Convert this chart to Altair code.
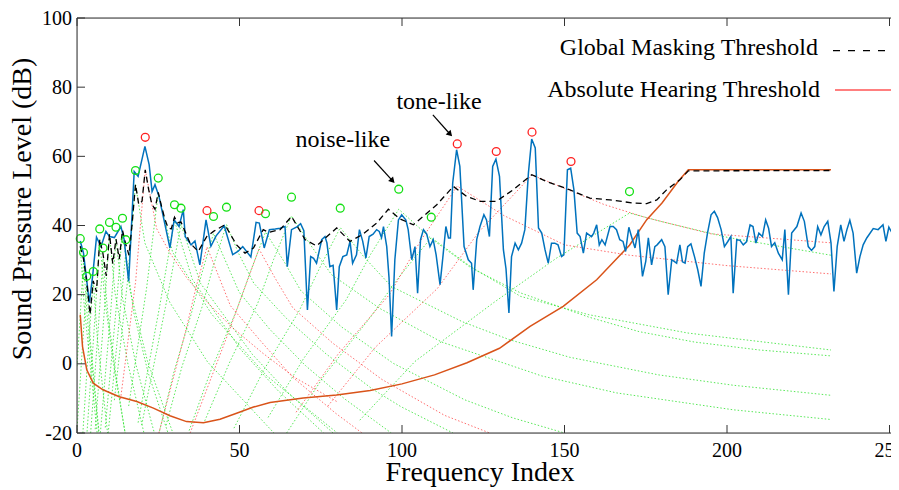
import altair as alt
import pandas as pd

# ---------------- data ----------------
spectrum = [
    (1, 35.5), (2, 32.0), (3.8, 17.7), (4.8, 25.3), (6, 36.6), (7.4, 33.9), (8.9, 38.3), (10, 36.8),
    (11.5, 36.5), (13.5, 39.7), (14.5, 36.0), (15.9, 23.8), (17.6, 55.6), (18.8, 54.2), (20.9, 62.9),
    (22.2, 57.6), (23.1, 49.8), (24, 51.8), (25.2, 48.5), (27.4, 38.8), (28.6, 33.5), (29.9, 41.6),
    (31.4, 39.7), (32.7, 44.6), (33.3, 36.8), (35.1, 34.4), (36.3, 35.5), (37.8, 28.6), (39.7, 41.6),
    (41.2, 34.0), (42.8, 37.0), (45.3, 39.9), (47.9, 31.6), (49.5, 32.5), (51, 33.9), (53.5, 30.9),
    (55.1, 40.9), (56.1, 40.7), (57.6, 33.5), (59.2, 38.8), (61, 39.0), (62.5, 39.2), (64, 39.7),
    (64.7, 28.1), (66, 38.8), (67.5, 39.5), (68.8, 40.5), (69.8, 38.5), (70.9, 15.6), (71.9, 31.0),
    (72.8, 30.5), (73.7, 29.1), (75.3, 35.9), (76.3, 36.8), (76.9, 35.0), (77.8, 28.1), (78.8, 28.5),
    (79.9, 15.6), (80.7, 28.1), (81.8, 31.0), (83, 31.5), (84, 35.4), (84.8, 29.1), (86, 31.5),
    (86.9, 38.8), (87.9, 35.5), (88.9, 30.6), (89.9, 36.8), (91.1, 37.5), (92.2, 38.8), (93, 38.3),
    (93.7, 36.5), (94.3, 39.7), (95.3, 33.9), (96, 25.0), (96.8, 7.9), (97.8, 30.1), (98.9, 41.6),
    (99.9, 43.1), (101.2, 41.6), (101.9, 38.8), (103, 30.1), (104, 33.9), (104.8, 20.4), (105.7, 35.9),
    (106.6, 38.8), (107.6, 37.5), (108.6, 33.9), (109.6, 35.9), (110.5, 31.5), (111.7, 22.9),
    (112.7, 32.0), (113.5, 39.7), (114.3, 36.4), (114.9, 36.4), (115.6, 52.3), (116.8, 61.9),
    (117.8, 57.1), (119.1, 33.9), (120.4, 30.1), (121.4, 29.1), (121.9, 21.4), (123, 36.0),
    (124, 39.7), (125.2, 43.1), (126, 41.6), (126.9, 36.8), (127.9, 57.1), (128.9, 59.2), (130, 54.2),
    (131.2, 33.0), (132, 27.5), (132.9, 14.7), (133.7, 31.0), (134.8, 34.9), (135.8, 33.0),
    (136.8, 34.9), (137.8, 38.8), (138.9, 55.2), (139.9, 65.0), (141, 62.4), (142, 39.3), (143, 37.8),
    (144, 33.0), (145, 29.1), (146, 34.9), (147, 34.9), (148, 34.4), (149.1, 31.0), (149.8, 31.5),
    (150.9, 56.1), (151.9, 56.6), (152.9, 50.3), (153.9, 37.8), (154.8, 36.8), (155.8, 32.0),
    (156.8, 37.8), (158.3, 36.8), (159, 37.8), (159.9, 40.2), (160.7, 34.4), (161.5, 35.9),
    (162.5, 34.4), (164, 39.7), (165, 39.7), (166, 38.8), (167, 35.9), (168, 35.4), (168.8, 32.5),
    (169.8, 39.5), (170.9, 35.9), (171.7, 33.5), (172.7, 38.8), (174, 25.3), (175, 29.6), (175.8, 36.4),
    (176.8, 28.6), (177.8, 33.9), (178.5, 34.4), (179.9, 35.9), (180.9, 33.9), (181.9, 20.0),
    (183, 30.1), (184.5, 29.1), (185.5, 34.4), (186.3, 29.5), (187.1, 29.1), (187.9, 33.9),
    (188.9, 34.7), (190, 31.0), (191, 27.2), (192, 22.4), (193, 32.0), (194, 37.8), (195.1, 43.1),
    (196.1, 44.1), (197.1, 42.3), (198.2, 38.8), (199.2, 33.9), (200.2, 35.3), (201.2, 36.8),
    (201.9, 20.4), (203, 35.9), (204, 35.7), (205, 34.4), (206, 35.3), (207.1, 40.2), (208, 39.7),
    (208.9, 34.9), (209.8, 37.8), (210.9, 36.8), (211.9, 41.6), (212.8, 39.2), (213.7, 33.9),
    (214.7, 35.0), (215.8, 32.0), (217, 30.1), (217.8, 38.8), (218.9, 20.0), (219.9, 37.8),
    (221.5, 39.7), (222.8, 43.6), (223.8, 41.2), (225, 33.9), (226, 32.8), (227, 33.9), (227.9, 39.7),
    (228.9, 37.3), (229.9, 39.7), (231, 41.2), (232, 35.0), (232.9, 20.9), (233.9, 33.9), (235, 40.2),
    (236, 35.4), (236.9, 38.8), (237.8, 41.5), (238.8, 37.8), (239.9, 26.2), (240.9, 31.0),
    (241.9, 34.4), (243, 36.4), (245, 39.1), (246.5, 38.8), (248, 40.2), (248.9, 35.4), (249.8, 39.5),
    (251, 37.5), (252.7, 37.3), (254, 38.0), (256, 37.0),
]

global_threshold = [
    (1, 34.0), (2, 30.3), (3, 23.7), (4, 14.3), (5, 24.0), (6, 20.8), (7, 36.0), (8, 31.8), (9, 25.4),
    (10, 37.5), (11, 29.0), (12, 36.1), (13, 30.3), (14, 38.6), (15, 34.6), (16, 31.4), (17, 40.9),
    (18, 51.9), (19, 46.1), (20, 47.0), (21, 56.1), (22, 50.6), (23, 46.2), (24, 44.7), (25, 49.6),
    (26, 45.6), (27, 42.0), (28, 39.3), (29, 39.0), (30, 42.4), (31, 40.8), (32, 41.0), (34.8, 34.9),
    (37.3, 32.5), (39.9, 36.8), (42, 38.3), (45.5, 40.2), (49.1, 34.4), (51.7, 32.0), (54.3, 33.5),
    (57.3, 38.8), (59, 38.0), (62.5, 38.8), (66, 42.6), (70.2, 35.9), (73.7, 34.1), (79.9, 39.3),
    (84, 35.4), (88, 37.5), (92.2, 40.7), (95.8, 44.7), (99.4, 41.9), (103.5, 40.2), (110.7, 46.0),
    (115.8, 51.3), (119.9, 48.4), (124, 47.0), (129, 47.0), (134.2, 50.3), (139.9, 54.7), (144.5, 52.7),
    (151.7, 50.3), (157.8, 47.9), (164, 47.4), (171.2, 46.5), (175.3, 46.3), (178.4, 47.4),
    (181.4, 50.3), (185.5, 53.2), (188.1, 55.8), (232, 55.9),
]

absolute_threshold = [
    (1, 14.2), (1.7, 5.0), (3, -1.7), (5, -5.6), (8, -7.5), (13, -9.5), (18.4, -10.9), (23.5, -12.8),
    (28.6, -15.0), (33.7, -16.7), (38.9, -17.0), (44, -16.0), (49.1, -14.3), (54.3, -12.5),
    (59.4, -11.2), (69.6, -9.9), (79.9, -9.0), (90.2, -7.7), (100, -5.8), (110, -3.2), (120, 0.3),
    (130, 4.5), (139.4, 10.8), (149.6, 16.6), (159.9, 24.3), (170, 34.3), (175.3, 41.7), (180, 46.5),
    (185, 52.8), (188.1, 56.1), (232, 56.1),
]

noise_idx = [1, 2, 3, 5, 7, 8, 10, 12, 14, 15, 18, 25, 30, 32, 42, 46, 58, 66, 81, 99, 109, 170]
noise_db = [36.2, 32.2, 25.3, 26.7, 39.0, 33.5, 40.9, 39.5, 42.1, 35.9, 55.9, 53.7, 46.0, 45.0,
            42.6, 45.3, 43.4, 48.2, 45.0, 50.5, 42.4, 49.8]
tone_idx = [21, 40, 56, 117, 129, 140, 152]
tone_db = [65.5, 44.3, 44.3, 63.6, 61.4, 67.0, 58.5]

# individual masking thresholds (dotted), vertices
noise_spread = [
    [(1, 34.0), (2.2, 17.0), (6.2, -20)],
    [(0, -0.7), (0.8, 11.0), (2, 29.9), (3.2, 12.9), (6.7, -20)],
    [(0, -19.2), (1.8, 6.7), (3, 22.8), (4.2, 5.8), (6.8, -20)],
    [(1.8, -20), (3.7, 7.3), (5, 24.0), (6.3, 7.0), (9.4, -20)],
    [(3.1, -19.6), (5.6, 14.4), (7, 36.0), (8.5, 19.0), (11.3, -0.5), (14.8, -20)],
    [(4.2, -20), (6.6, 11.0), (8, 30.4), (9.6, 13.4), (12.0, -3.4), (14.8, -20)],
    [(5.6, -18.9), (8.4, 15.2), (10, 37.5), (11.7, 20.5), (15.6, 0.3), (20.6, -20)],
    [(7.2, -19.9), (10.3, 14.2), (12, 36.0), (14, 19.0), (18.2, -0.5), (23.8, -20)],
    [(8.7, -18.4), (12, 15.6), (14, 38.4), (16.3, 21.4), (21.7, 0.7), (29.5, -20)],
    [(9.6, -20), (12.9, 11.7), (15, 32.1), (17.4, 15.1), (21.8, -2.3), (28, -20)],
    [(11.5, -10.5), (15.5, 23.5), (18, 51.9), (20.9, 34.9), (28.6, 17.7), (40.2, 0.5), (60.6, -20)],
    [(15.9, -12.2), (21.4, 21.8), (25, 49.3), (29.4, 32.3), (41.4, 14.4), (58.4, -3.5), (80.1, -20)],
    [(18.8, -17.0), (25.5, 17.0), (30, 41.4), (35.5, 24.4), (50.3, 4.2), (62, -7.9), (75.9, -20)],
    [(19.9, -17.7), (27.2, 16.3), (32, 40.3), (38, 23.3), (53.9, 2.8), (65.1, -8.5), (78.8, -20)],
    [(25.4, -19.4), (29.8, -2.4), (35.2, 14.6), (38.4, 26.1), (42, 37.7), (49.9, 20.7), (59.3, 10.0),
     (70.4, -0.6), (82.3, -10.1), (96.7, -20)],
    [(27.4, -17.8), (32.3, -0.8), (38.4, 16.2), (41.9, 28.2), (46, 40.3), (49.8, 31.8), (54.4, 23.3),
     (64.5, 13.1), (76.6, 2.9), (90.9, -7.3), (99.7, -12.4), (115.7, -20)],
    [(34.5, -19.3), (41.1, -2.2), (48.8, 14.8), (53.3, 26.5), (58, 38.1), (63.7, 29.6), (68.9, 21.1),
     (81.5, 10.6), (97.4, 0.1), (119.3, -10.4), (134, -15.6), (150, -20)],
    [(39.3, -16.5), (47, 0.5), (55.6, 17.5), (60.5, 30.2), (66, 42.8), (71.9, 34.3), (78.3, 25.8),
     (93.2, 16.0), (112.2, 6.3), (143, -3.5), (166, -8.4), (202, -13.3), (232, -16.1)],
    [(48.3, -18.6), (57.6, -1.6), (68.4, 15.4), (74.5, 27.4), (81, 39.4), (88.3, 30.9), (96.7, 22.4),
     (118.5, 12.2), (133, 7.0), (151.6, 1.9), (179, -3.2), (202, -6.2), (232, -9.1)],
    [(58.8, -15.5), (69.7, 1.5), (82.8, 18.5), (90.3, 31.6), (99, 44.7), (109, 36.2), (121.3, 27.7),
     (136.5, 20.5), (157.5, 13.5), (173, 9.3), (190, 6.3), (210, 4.0), (232, 2.3)],
    [(64.5, -20), (76, -3.5), (90.3, 13.5), (99, 25.0), (109, 36.5), (121.3, 28.0), (136.5, 19.5),
     (157.5, 14.2), (188, 8.9), (232, 4.0)],
    [(87, -16.3), (104, 0.7), (128.2, 17.7), (147.6, 30.6), (170, 43.6), (180, 41.1), (200, 36.6),
     (232, 31.4)],
]
tone_spread = [
    [(13.4, -10.2), (18.05, 23.9), (19.5, 40.0), (21, 56.1), (24.5, 39.1), (28.7, 31.9), (33.9, 24.7),
     (40.4, 17.5), (47.9, 10.4), (57, 3.2), (67.1, -4.0), (80.3, -11.1)],
    [(25.2, -20), (33.6, 10.1), (36.6, 22.0), (40, 33.8), (43.6, 25.3), (47.2, 16.8), (56.6, 6.5),
     (66.4, -3.9), (79.6, -14.3), (87.7, -20)],
    [(34.8, -20), (46.8, 9.5), (51.4, 21.4), (56, 33.2), (61, 24.7), (66.4, 16.2), (78.8, 5.9),
     (93.8, -4.5), (113.1, -14.9), (127, -20)],
    [(67.4, -14.0), (80.5, 3.0), (96.1, 20.0), (105.8, 35.7), (117, 51.4), (131.3, 42.9), (150, 34.4),
     (170, 31.4), (200, 28.4), (232, 26.0)],
    [(77.2, -12.2), (91.8, 4.8), (110.9, 21.8), (123.7, 38.2), (140, 54.6), (162.1, 46.1), (175, 42.3),
     (195, 37.6), (232, 35.0)],
]

x_ticks = [0, 50, 100, 150, 200, 250]
y_ticks = [-20, 0, 20, 40, 60, 80, 100]

notes = ["noise-like", "tone-like"]
note_x = [81.8, 111.4]
note_y = [62.7, 73.7]
arrow_x1 = [91.4, 109.5]
arrow_y1 = [58.8, 72.0]
arrow_x2 = [96.9, 114.6]
arrow_y2 = [53.1, 66.6]

# ---------------- chart ----------------
W, H = 814, 415
FONT = "Liberation Serif"
AX = "#333333"
x_scale = alt.Scale(domain=[0, W / 3.25], nice=False, zero=False)
y_scale = alt.Scale(domain=[-20, 100], nice=False, zero=False)


def pairs_df(pairs):
    return pd.DataFrame({"x": [p[0] for p in pairs], "y": [p[1] for p in pairs]})


def lines_df(lines):
    rows = []
    for i, line in enumerate(lines):
        for k, (x, y) in enumerate(line):
            rows.append({"id": i, "k": k, "x": x, "y": y})
    return pd.DataFrame(rows)


X = alt.X("x:Q", scale=x_scale, axis=None)
Y = alt.Y("y:Q", scale=y_scale, axis=None)
one = pd.DataFrame({"a": [0]})

green_dots = alt.Chart(lines_df(noise_spread)).mark_line(
    clip=True, color="#22e022", strokeWidth=1, strokeDash=[1.5, 2], opacity=0.75
).encode(x=X, y=Y, detail="id:N", order="k:Q")

red_dots = alt.Chart(lines_df(tone_spread)).mark_line(
    clip=True, color="#ff3030", strokeWidth=1, strokeDash=[1.5, 2], opacity=0.7
).encode(x=X, y=Y, detail="id:N", order="k:Q")

ath = alt.Chart(pairs_df(absolute_threshold)).mark_line(
    clip=True, color="#D95319", strokeWidth=1.5
).encode(x=X, y=Y)

spec = alt.Chart(pairs_df(spectrum)).mark_line(
    clip=True, color="#0072BD", strokeWidth=1.5
).encode(x=X, y=Y)

gmt = alt.Chart(pairs_df(global_threshold)).mark_line(
    clip=True, color="black", strokeWidth=1.3, strokeDash=[6, 4]
).encode(x=X, y=Y)

noise_pts = alt.Chart(pd.DataFrame({"x": noise_idx, "y": noise_db})).mark_point(
    shape="circle", filled=False, size=62, strokeWidth=1.3, color="#14e014", opacity=1
).encode(x=X, y=Y)

tone_pts = alt.Chart(pd.DataFrame({"x": tone_idx, "y": tone_db})).mark_point(
    shape="circle", filled=False, size=62, strokeWidth=1.3, color="#ff2020", opacity=1
).encode(x=X, y=Y)

# frame (left, top, bottom) and inward ticks
frame_left = alt.Chart(one).mark_rule(color=AX, strokeWidth=1).encode(
    x=alt.value(0), y=alt.value(0), y2=alt.value(H))
frame_top = alt.Chart(one).mark_rule(color=AX, strokeWidth=1).encode(
    x=alt.value(0), x2=alt.value(W), y=alt.value(0))
frame_bottom = alt.Chart(one).mark_rule(color=AX, strokeWidth=1).encode(
    x=alt.value(0), x2=alt.value(W), y=alt.value(H))

xt = pd.DataFrame({"x": x_ticks, "t": [str(v) for v in x_ticks]})
yt = pd.DataFrame({"y": y_ticks, "t": [str(v) for v in y_ticks]})
tick_bottom = alt.Chart(xt).mark_rule(color=AX, strokeWidth=1).encode(
    x=X, y=alt.value(H), y2=alt.value(H - 8))
tick_top = alt.Chart(xt).mark_rule(color=AX, strokeWidth=1).encode(
    x=X, y=alt.value(0), y2=alt.value(8))
tick_left = alt.Chart(yt).mark_rule(color=AX, strokeWidth=1).encode(
    y=Y, x=alt.value(0), x2=alt.value(8))

x_labels = alt.Chart(xt).mark_text(
    font=FONT, fontSize=20, color="black", align="center", baseline="alphabetic", dy=24
).encode(x=X, y=alt.value(H), text="t:N")
y_labels = alt.Chart(yt).mark_text(
    font=FONT, fontSize=20, color="black", align="right", baseline="alphabetic", dy=6.6
).encode(x=alt.value(-5), y=Y, text="t:N")

x_title = alt.Chart(pd.DataFrame({"t": ["Frequency Index"]})).mark_text(
    font=FONT, fontSize=28, color="black", align="center", baseline="alphabetic"
).encode(x=alt.value(403), y=alt.value(463), text="t:N")

y_title = alt.Chart(pd.DataFrame({"t": ["Sound Pressure Level (dB)"]})).mark_text(
    font=FONT, fontSize=28, color="black", align="center", baseline="alphabetic", angle=270
).encode(x=alt.value(-46), y=alt.value(191), text="t:N")

leg1 = alt.Chart(pd.DataFrame({"t": ["Global Masking Threshold"]})).mark_text(
    font=FONT, fontSize=24, color="black", align="right", baseline="alphabetic"
).encode(x=alt.value(741), y=alt.value(37), text="t:N")
leg2 = alt.Chart(pd.DataFrame({"t": ["Absolute Hearing Threshold"]})).mark_text(
    font=FONT, fontSize=24, color="black", align="right", baseline="alphabetic"
).encode(x=alt.value(743), y=alt.value(78.7), text="t:N")
leg1_line = alt.Chart(one).mark_rule(
    color="black", strokeWidth=1.2, strokeDash=[7, 8]
).encode(x=alt.value(756), x2=alt.value(813), y=alt.value(32.7))
leg2_line = alt.Chart(one).mark_rule(
    color="#ff0000", strokeWidth=1.2
).encode(x=alt.value(758), x2=alt.value(814), y=alt.value(72))

notes_df = pd.DataFrame({"t": notes, "x": note_x, "y": note_y})
note_text = alt.Chart(notes_df).mark_text(
    font=FONT, fontSize=24, color="black", align="center", baseline="alphabetic"
).encode(x=X, y=Y, text="t:N")

arrows_df = pd.DataFrame({"x": arrow_x1, "y": arrow_y1, "x2": arrow_x2, "y2": arrow_y2})
arrow_shaft = alt.Chart(arrows_df).mark_rule(color="black", strokeWidth=1.2).encode(
    x=X, y=Y, x2="x2:Q", y2="y2:Q")
arrow_head = alt.Chart(arrows_df).mark_point(
    shape="triangle", filled=True, size=45, color="black", angle=137, opacity=1
).encode(x=alt.X("x2:Q", scale=x_scale, axis=None), y=alt.Y("y2:Q", scale=y_scale, axis=None))

chart = alt.layer(
    green_dots, red_dots, ath, spec, gmt, noise_pts, tone_pts,
    frame_left, frame_top, frame_bottom, tick_bottom, tick_top, tick_left,
    x_labels, y_labels, x_title, y_title,
    leg1, leg2, leg1_line, leg2_line, note_text, arrow_shaft, arrow_head,
).properties(
    width=W, height=H,
    autosize=alt.AutoSizeParams(type="none"),
    padding={"left": 69, "top": 10, "right": 0, "bottom": 54},
).configure_view(stroke=None).configure(font=FONT)

chart.save("out.html", embed_options={"renderer": "svg", "actions": False})
